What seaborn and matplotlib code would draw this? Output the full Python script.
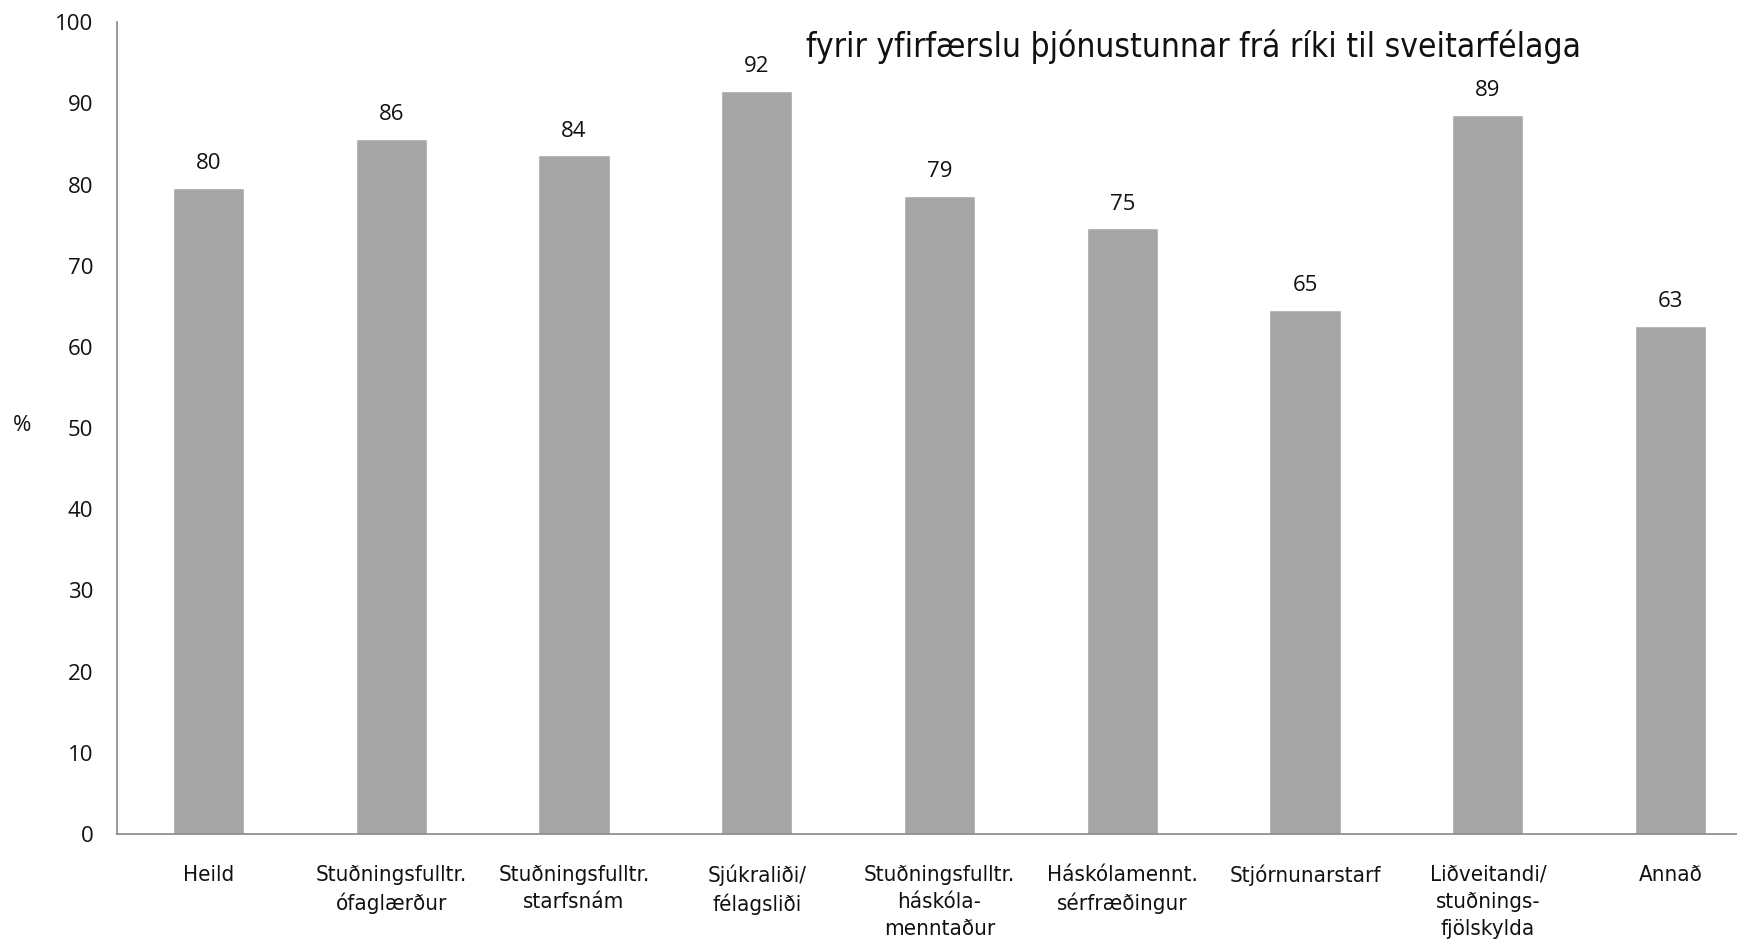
import numpy as np
import pandas as pd
import matplotlib
matplotlib.use("Agg")
import matplotlib.pyplot as plt
from matplotlib import font_manager
import seaborn as sns

sns.set_style("white")
plt.rcParams['font.family'] = ['Open Sans', 'DejaVu Sans']

# gogn lesin af myndinni
flokkar = ["Heild", "Stuðningsfulltr.\nófaglærður", "Stuðningsfulltr.\nstarfsnám",
           "Sjúkraliði/\nfélagsliði", "Stuðningsfulltr.\nháskóla-\nmenntaður",
           "Háskólamennt.\nsérfræðingur", "Stjórnunarstarf",
           "Liðveitandi/\nstuðnings-\nfjölskylda", "Annað"]
hlutfall = [79.6, 85.6, 83.6, 91.6, 78.6, 74.6, 64.6, 88.6, 62.6]
yticks = [0, 10, 20, 30, 40, 50, 60, 70, 80, 90, 100]
titill = "fyrir yfirfærslu þjónustunnar frá ríki til sveitarfélaga"

# mjótt letur ef til er
mjott = [f.fname for f in font_manager.fontManager.ttflist
         if ("Condensed" in f.fname or "Narrow" in f.fname)
         and "Bold" not in f.fname and "Oblique" not in f.fname and "Italic" not in f.fname]
if mjott:
    narrow = font_manager.FontProperties(fname=sorted(mjott)[0])
else:
    narrow = font_manager.FontProperties(family="Liberation Sans")

df = pd.DataFrame({"flokkur": flokkar, "hlutfall": hlutfall})

fig = plt.figure(figsize=(17.37, 9.46), dpi=100)
ax = fig.add_axes([0.0674, 0.1184, 0.947, 0.858])

sns.barplot(data=df, x="flokkur", y="hlutfall", color="#a6a6a6", width=0.39,
            saturation=1, errorbar=None, ax=ax)

for c in ax.containers:
    ax.bar_label(c, labels=[f"{v:.0f}" for v in hlutfall], padding=10, fontsize=16, color="#111111")

ax.set_ylim(0, 100)
ax.set_xlim(-0.5, len(flokkar) - 0.5)
ax.set_yticks(yticks)
ax.tick_params(axis="y", labelsize=16, length=9, width=1.2, color="#888888",
               labelcolor="#111111", direction="out", pad=8)
ax.set_xticks(range(len(flokkar)))
ax.set_xticklabels(flokkar, fontproperties=narrow, fontsize=16, linespacing=1.45)
ax.tick_params(axis="x", length=0, pad=22, labelcolor="#111111")
ax.set_xticks(np.arange(len(flokkar) + 1) - 0.5, minor=True)
ax.tick_params(axis="x", which="minor", length=9, width=1.2, color="#888888", direction="out")
ax.tick_params(axis="y", which="minor", length=0)

sns.despine(ax=ax, top=True, right=True)
for s in ["left", "bottom"]:
    ax.spines[s].set_color("#888888")
    ax.spines[s].set_linewidth(1.2)

ax.set_xlabel("")
ax.set_ylabel("%", rotation=0, fontsize=16, color="#111111")
ax.yaxis.set_label_coords(-0.058, 0.49)

fig.text(0.687, 0.951, titill, ha="center", va="center", fontproperties=narrow,
         fontsize=24, color="#111111")

fig.savefig("out.png", dpi=100)
